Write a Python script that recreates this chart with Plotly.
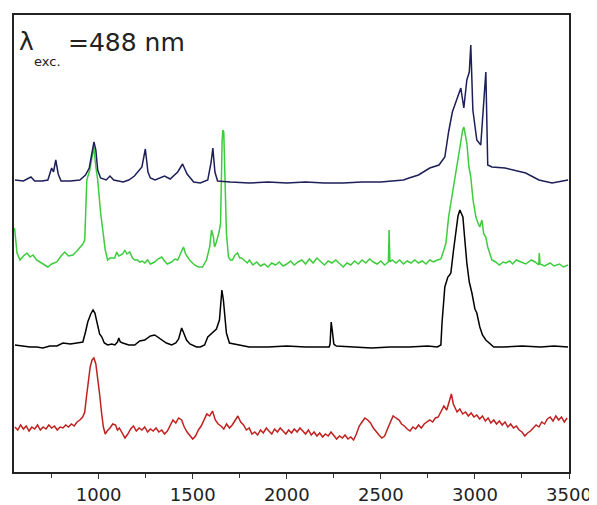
import plotly.graph_objects as go

# Raman shift (cm^-1) and intensity (arb. units, traces stacked with offsets)
navy_x = [555, 600, 640, 660, 700, 730, 750, 760, 772, 785, 800, 850, 900, 930, 950, 965, 975, 985, 995,
          1010, 1040, 1060, 1080, 1130, 1160, 1190, 1230, 1248, 1262, 1275, 1300, 1350, 1380, 1420, 1446,
          1470, 1505, 1540, 1580, 1598, 1607, 1618, 1632, 1700, 1800, 1900, 2000, 2100, 2200, 2300, 2400,
          2500, 2560, 2620, 2650, 2700, 2760, 2809, 2840, 2860, 2880, 2904, 2925, 2941, 2957, 2970, 2978,
          2989, 3010, 3031, 3047, 3058, 3068, 3090, 3160, 3270, 3340, 3410, 3495]
navy_y = [292, 291, 295, 291, 291, 292, 304, 300, 312, 298, 291, 291, 292, 297, 304, 318, 330, 322, 302,
          294, 292, 296, 292, 290, 292, 296, 305, 323, 300, 294, 292, 296, 293, 300, 308,
          298, 290, 289, 292, 310, 324, 300, 291, 290, 289, 290, 289, 290, 289, 289, 290,
          290, 291, 292, 294, 297, 304, 307, 315, 340, 360, 372, 384, 364, 392, 400, 427,
          362, 332, 327, 372, 400, 307, 305, 304, 299, 292, 289, 292]

green_x = [553, 566, 582, 600, 619, 635, 651, 670, 688, 710, 730, 750, 778, 800, 820, 840, 863, 884, 900,
           916, 926, 937, 953, 965, 974, 985, 995, 1010, 1022, 1035, 1048, 1060, 1086, 1096, 1107, 1128,
           1139, 1150, 1165, 1180, 1192, 1207, 1218, 1230, 1245, 1260, 1275, 1298, 1315, 1335, 1350, 1365,
           1388, 1405, 1420, 1440, 1451, 1462, 1483, 1499, 1510, 1530, 1552, 1573, 1590, 1600, 1610, 1616,
           1626, 1640, 1648, 1656, 1660, 1665, 1670, 1679, 1690, 1700, 1711, 1725, 1738, 1750, 1759, 1775,
           1790, 1801, 1820, 1840, 1860, 1880, 1900, 1920, 1940, 1960, 1980, 2000, 2020, 2040, 2060, 2080,
           2100, 2120, 2140, 2160, 2180, 2200, 2220, 2240, 2260, 2280, 2300, 2320, 2340, 2360, 2380, 2400,
           2420, 2440, 2460, 2480, 2500, 2520, 2540, 2544, 2548, 2560, 2580, 2600, 2620, 2640, 2660, 2680,
           2700, 2720, 2740, 2760, 2780, 2800, 2819, 2835, 2846, 2860, 2872, 2885, 2899, 2915, 2925, 2935,
           2941, 2950, 2957, 2968, 2978, 2990, 3005, 3018, 3026, 3037, 3047, 3058, 3068, 3080, 3090, 3110,
           3130, 3150, 3164, 3185, 3200, 3220, 3249, 3270, 3300, 3320, 3339, 3342, 3346, 3370, 3400, 3420,
           3450, 3470, 3495]
green_y = [244, 219, 212, 216, 219, 215, 217, 212, 210, 207, 205, 208, 210, 216, 220, 216, 217, 221, 224,
           228, 232, 292, 302, 318, 325, 305, 292, 260, 239, 222, 212, 214, 214, 220, 216, 218,
           222, 218, 220, 214, 212, 212, 210, 211, 209, 212, 208, 210, 213, 215, 211, 208,
           210, 213, 212, 220, 225, 218, 212, 209, 207, 205, 205, 212, 225, 242, 235, 225,
           230, 240, 249, 330, 342, 340, 300, 239, 215, 212, 212, 217, 219, 214, 214, 211,
           209, 212, 207, 210, 206, 208, 205, 209, 207, 210, 206, 208, 211, 207, 210, 212,
           208, 213, 209, 214, 210, 207, 211, 209, 212, 208, 205, 209, 207, 211, 208, 212,
           209, 213, 210, 208, 211, 207, 210, 242, 210, 212, 209, 212, 208, 211, 209, 212,
           209, 211, 208, 212, 210, 212, 213, 222, 229, 255, 269, 285, 302, 322, 332, 342,
           345, 335, 329, 305, 295, 272, 255, 248, 245, 252, 238, 235, 225, 218, 212, 210,
           207, 210, 209, 211, 208, 212, 210, 208, 212, 210, 207, 219, 208, 206, 209, 206,
           208, 205, 207]

black_x = [555, 600, 635, 670, 704, 740, 778, 810, 850, 884, 916, 930, 942, 958, 970, 980, 990, 1005,
           1017, 1030, 1048, 1070, 1086, 1100, 1107, 1115, 1128, 1160, 1192, 1218, 1245, 1275, 1298, 1320,
           1335, 1360, 1388, 1410, 1425, 1441, 1450, 1467, 1485, 1499, 1520, 1540, 1563, 1580, 1605, 1626,
           1642, 1650, 1655, 1663, 1672, 1679, 1695, 1720, 1748, 1770, 1800, 1900, 2000, 2100, 2200, 2225,
           2230, 2236, 2242, 2250, 2263, 2350, 2450, 2550, 2650, 2750, 2800, 2819, 2825, 2840, 2856, 2865,
           2872, 2885, 2899, 2910, 2920, 2930, 2936, 2945, 2957, 2970, 2984, 3000, 3010, 3026, 3040, 3058,
           3074, 3100, 3150, 3250, 3350, 3420, 3495]
black_y = [127, 126, 125, 125, 124, 126, 126, 129, 128, 129, 130, 140, 150, 158, 162, 159, 149, 138,
           135, 129, 127, 128, 127, 130, 134, 130, 129, 127, 127, 131, 132, 136, 137, 134,
           132, 129, 127, 129, 133, 144, 140, 132, 128, 127, 125, 125, 127, 135, 139, 143,
           152, 175, 182, 172, 150, 139, 129, 128, 127, 126, 125, 125, 126, 125, 125, 125,
           128, 150, 141, 128, 126, 125, 124, 125, 125, 126, 125, 127, 149, 185, 195, 197,
           199, 220, 242, 256, 262, 258, 255, 235, 209, 190, 179, 163, 159, 145, 137, 132,
           129, 125, 125, 126, 125, 126, 125]

red_x = [555, 570, 585, 600, 615, 630, 645, 660, 675, 690, 705, 720, 735, 750, 765, 780, 795, 810, 825,
         840, 855, 870, 885, 900, 915, 926, 935, 945, 955, 965, 975, 985, 995, 1005, 1015, 1025, 1035,
         1045, 1060, 1075, 1090, 1100, 1110, 1125, 1140, 1155, 1170, 1185, 1200, 1215, 1230, 1245, 1260,
         1275, 1290, 1305, 1320, 1335, 1350, 1365, 1380, 1395, 1410, 1425, 1441, 1455, 1470, 1485, 1500,
         1515, 1530, 1545, 1560, 1575, 1590, 1605, 1620, 1635, 1650, 1665, 1680, 1695, 1710, 1725, 1740,
         1755, 1770, 1785, 1800, 1815, 1830, 1845, 1860, 1875, 1891, 1905, 1920, 1935, 1950, 1965, 1980,
         1995, 2010, 2025, 2040, 2055, 2070, 2085, 2100, 2115, 2130, 2145, 2160, 2175, 2190, 2205, 2220,
         2235, 2250, 2265, 2280, 2295, 2310, 2325, 2340, 2355, 2370, 2385, 2400, 2415, 2430, 2445, 2460,
         2475, 2490, 2505, 2520, 2535, 2550, 2565, 2580, 2597, 2610, 2625, 2640, 2655, 2670, 2685, 2700,
         2715, 2730, 2745, 2760, 2775, 2790, 2805, 2820, 2835, 2850, 2865, 2875, 2885, 2895, 2905, 2920,
         2935, 2950, 2965, 2980, 2995, 3010, 3025, 3040, 3055, 3070, 3085, 3100, 3115, 3130, 3145, 3160,
         3175, 3190, 3205, 3220, 3235, 3250, 3265, 3280, 3295, 3310, 3325, 3340, 3355, 3370, 3385, 3400,
         3415, 3430, 3445, 3460, 3475, 3490]
red_y = [45, 42, 47, 43, 46, 41, 45, 43, 47, 42, 45, 43, 47, 44, 46, 42, 45, 44, 47,
         45, 48, 46, 50, 52, 55, 60, 75, 92, 105, 112, 114, 108, 95, 78, 60, 45, 38,
         41, 44, 48, 47, 42, 44, 39, 34, 38, 43, 46, 41, 44, 42, 45, 40,
         43, 41, 44, 40, 42, 38, 41, 46, 52, 49, 54, 52, 45, 40, 37, 33,
         36, 42, 46, 53, 58, 56, 61, 52, 48, 46, 43, 48, 44, 47, 52, 56,
         50, 47, 42, 44, 38, 40, 37, 42, 39, 44, 41, 38, 43, 40, 44, 41,
         38, 42, 39, 43, 40, 44, 41, 38, 42, 37, 40, 36, 39, 35, 38, 36,
         40, 37, 33, 36, 34, 37, 33, 35, 32, 38, 46, 50, 54, 52, 49, 44,
         40, 37, 34, 36, 43, 49, 56, 54, 52, 48, 46, 43, 41, 45, 43, 47,
         44, 48, 50, 52, 50, 54, 55, 60, 66, 62, 72, 78, 68, 64, 60, 63,
         58, 60, 56, 59, 55, 57, 53, 56, 51, 54, 49, 52, 48, 51, 47, 50,
         45, 48, 44, 46, 42, 40, 36, 39, 41, 44, 47, 45, 50, 48, 53, 55,
         51, 56, 52, 55, 50, 54]

x_ticks = [1000, 1500, 2000, 2500, 3000, 3500]
x_minor = [750, 1250, 1750, 2250, 2750, 3250]

FONT = "DejaVu Sans, Arial, sans-serif"

fig = go.Figure()
for xs, ys, col in [(red_x, red_y, "#c0201e"), (black_x, black_y, "#000000"),
                    (green_x, green_y, "#3ccc3c"), (navy_x, navy_y, "#1c1f58")]:
    fig.add_trace(go.Scatter(x=xs, y=ys, mode="lines", line=dict(color=col, width=1.5),
                             showlegend=False, hoverinfo="skip"))

fig.add_annotation(xref="paper", yref="paper", x=0.006, y=0.941, xanchor="left", yanchor="middle",
                   text="λ", showarrow=False, font=dict(family=FONT, size=25, color="#222222"))
fig.add_annotation(xref="paper", yref="paper", x=0.032, y=0.899, xanchor="left", yanchor="middle",
                   text="exc.", showarrow=False, font=dict(family=FONT, size=13, color="#222222"))
fig.add_annotation(xref="paper", yref="paper", x=0.094, y=0.939, xanchor="left", yanchor="middle",
                   text="=488 nm", showarrow=False, font=dict(family=FONT, size=25, color="#222222"))

# page body has an 8px default margin, so the figure is sized/offset to compensate
fig.update_layout(
    width=589, height=497,
    margin=dict(l=6, r=28, t=7, b=33),
    paper_bgcolor="white", plot_bgcolor="white",
    font=dict(family=FONT, color="#222222"),
)
fig.update_xaxes(range=[550, 3500], tickvals=x_ticks, ticktext=[str(v) for v in x_ticks],
                 ticks="outside", ticklen=5, tickwidth=1.2, tickcolor="#333333",
                 minor=dict(tickvals=x_minor, ticks="outside", ticklen=4, tickcolor="#333333"),
                 showline=True, linecolor="#222222", linewidth=1.5, mirror=True, automargin=False,
                 ticklabeloverflow="allow", ticklabelstandoff=1,
                 showgrid=False, zeroline=False, tickfont=dict(family=FONT, size=18, color="#222222"))
fig.update_yaxes(range=[0, 457], showticklabels=False, ticks="", showline=True, linecolor="#222222",
                 linewidth=1.5, mirror=True, showgrid=False, zeroline=False, automargin=False)

fig.write_html("out.html")
